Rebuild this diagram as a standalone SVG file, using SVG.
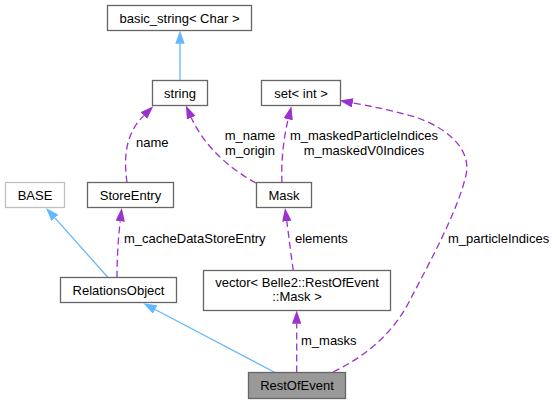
<svg xmlns="http://www.w3.org/2000/svg" width="557" height="404" viewBox="0 0 557 404">
<style>
text{font-family:"Liberation Sans",Arial,Helvetica,sans-serif;font-size:13px;fill:#000}
.n rect{fill:#fff;stroke:#666;stroke-width:1.3}
.c{text-anchor:middle}
.inh{fill:none;stroke:#63b8ff;stroke-width:1.3}
.use{fill:none;stroke:#9a32cd;stroke-width:1.3;stroke-dasharray:7,4}
</style>
<defs>
<marker id="ab" markerUnits="userSpaceOnUse" viewBox="0 0 13.3 9.4" refX="0" refY="4.7" markerWidth="13.3" markerHeight="9.4" orient="auto">
<path d="M0,0 L13.3,4.7 L0,9.4 z" fill="#63b8ff"/>
</marker>
<marker id="ap" markerUnits="userSpaceOnUse" viewBox="0 0 13.3 9.4" refX="0" refY="4.7" markerWidth="13.3" markerHeight="9.4" orient="auto">
<path d="M0,0 L13.3,4.7 L0,9.4 z" fill="#9a32cd"/>
</marker>
</defs>
<g id="edges">
<path class="inh" d="M180,80.5 L180,43.8" marker-end="url(#ab)"/>
<path class="use" d="M127,182.5 C124,160 124,135 143.8,115.6" marker-end="url(#ap)"/>
<text x="136" y="147">name</text>
<path class="use" d="M256,183 C232,170 205,148 191.3,117.7" marker-end="url(#ap)"/>
<text class="c" x="250" y="140">m_name</text>
<text class="c" x="250" y="155">m_origin</text>
<path class="use" d="M282,182.5 C281,165 283,140 288.2,119.2" marker-end="url(#ap)"/>
<text class="c" x="364" y="140">m_maskedParticleIndices</text>
<text class="c" x="364" y="154.5">m_maskedV0Indices</text>
<path class="use" d="M333,372 C370,354 395,330 410,300 C432,258 458,210 466,175 C472,148 445,127 415,117 C395,111 375,107 352.7,102.9" marker-end="url(#ap)"/>
<text x="448" y="242.5">m_particleIndices</text>
<path class="use" d="M117,277.5 C117,260 118,240 120.2,221.3" marker-end="url(#ap)"/>
<text x="124" y="242.5">m_cacheDataStoreEntry</text>
<path class="inh" d="M108,277.5 L54.9,217.9" marker-end="url(#ab)"/>
<path class="use" d="M293.3,270.5 C291,255 289,238 286.8,221.2" marker-end="url(#ap)"/>
<text x="295" y="242.5">elements</text>
<path class="inh" d="M275,372.5 L155.1,309.5" marker-end="url(#ab)"/>
<path class="use" d="M296.7,372.5 L296.7,323.8" marker-end="url(#ap)"/>
<text x="301" y="345">m_masks</text>
</g>
<g id="basic_string" class="n"><rect x="107.5" y="5.5" width="144" height="25"/><text class="c" x="179.5" y="22.5">basic_string&lt; Char &gt;</text></g>
<g id="string" class="n"><rect x="152.5" y="80.5" width="55" height="25"/><text class="c" x="180" y="97.5">string</text></g>
<g id="set_int" class="n"><rect x="261.5" y="80.5" width="79" height="25"/><text class="c" x="301" y="97.5">set&lt; int &gt;</text></g>
<g id="BASE" class="n"><rect x="5.5" y="182.5" width="59" height="25" style="stroke:#bfbfbf"/><text class="c" x="35" y="199.5">BASE</text></g>
<g id="StoreEntry" class="n"><rect x="87.5" y="182.5" width="86" height="25"/><text class="c" x="130.5" y="199.5">StoreEntry</text></g>
<g id="Mask" class="n"><rect x="256.5" y="182.5" width="55" height="25"/><text class="c" x="284" y="199.5">Mask</text></g>
<g id="RelationsObject" class="n"><rect x="60.5" y="277.5" width="116" height="25"/><text class="c" x="118.5" y="294.5">RelationsObject</text></g>
<g id="vector_Mask" class="n"><rect x="203.5" y="270.5" width="187" height="40"/><text class="c" x="297" y="286.5">vector&lt; Belle2::RestOfEvent</text><text class="c" x="297" y="300.5">::Mask &gt;</text></g>
<g id="RestOfEvent" class="n"><rect x="248.5" y="372.5" width="97" height="26" style="fill:#999999"/><text class="c" x="297" y="390">RestOfEvent</text></g>
</svg>
